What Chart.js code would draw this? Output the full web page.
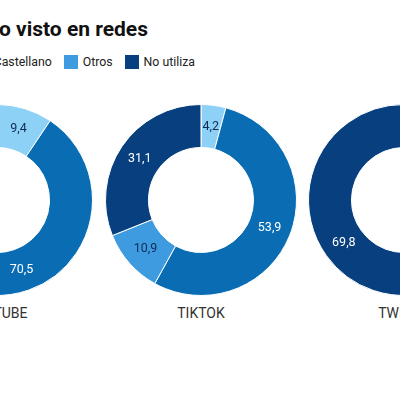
<!DOCTYPE html>
<html>
<head>
<meta charset="utf-8">
<script src="https://cdn.jsdelivr.net/npm/chart.js@4/dist/chart.umd.min.js"></script>
<style>
  html, body { margin: 0; padding: 0; background: #fff; }
  body { width: 400px; height: 400px; overflow: hidden; position: relative; font-family: Roboto, "Noto Sans", sans-serif; }
  #title { position: absolute; right: 252px; top: 17px; white-space: nowrap; font-size: 21px; font-weight: 700; color: #111; }
  #legend { position: absolute; right: 205px; top: 55px; display: flex; align-items: center; white-space: nowrap; font-size: 12.3px; color: #222; }
  #legend .item { display: flex; align-items: center; margin-left: 12px; }
  #legend .sw { width: 14px; height: 14px; margin-right: 5px; }
  .donut { position: absolute; top: 104px; }
  .name { position: absolute; top: 305px; width: 200px; text-align: center; font-size: 14px; color: #333; }
</style>
</head>
<body>
<div id="title">Idioma del contenido visto en redes</div>
<div id="legend"></div>
<div id="charts"></div>
<script>
// categories (legend order) and colours
const categories = ['Catalán', 'Castellano', 'Otros', 'No utiliza'];
const colors = ['#8dd1f7', '#0a6db3', '#3f9be0', '#083f7e'];
const labelColors = ['#0d2d57', '#ffffff', '#0d2d57', '#ffffff'];

// platforms and their values in %
const platforms = ['YOUTUBE', 'TIKTOK', 'TWITCH'];
const youtubeValues = [9.4, 70.5, 5.6, 14.5];
const tiktokValues = [4.2, 53.9, 10.9, 31.1];
const twitchValues = [3.9, 22.6, 3.7, 69.8];
const allValues = [youtubeValues, tiktokValues, twitchValues];

// centre x of every donut on the page
const centers = [-3, 201, 404];
const size = 192;

// legend
const legend = document.getElementById('legend');
categories.forEach((c, i) => {
    let item = document.createElement('div');
    item.className = 'item';
    item.innerHTML = '<span class="sw" style="background:' + colors[i] + '"></span>' + c;
    legend.appendChild(item);
});

// value labels inside the arcs
const arcLabels = {
    id: 'arcLabels',
    afterDatasetsDraw(chart) {
        const ctx = chart.ctx;
        const meta = chart.getDatasetMeta(0);
        ctx.save();
        ctx.font = '12.5px Roboto, sans-serif';
        ctx.textAlign = 'center';
        ctx.textBaseline = 'middle';
        meta.data.forEach((arc, i) => {
            let p = arc.tooltipPosition();
            ctx.fillStyle = labelColors[i];
            let v = chart.data.datasets[0].data[i];
            ctx.fillText(v.toFixed(1).replace('.', ','), p.x, p.y);
        });
        ctx.restore();
    }
};

const holder = document.getElementById('charts');
platforms.forEach((name, k) => {
    let canvas = document.createElement('canvas');
    canvas.className = 'donut';
    canvas.width = size;
    canvas.height = size;
    canvas.style.left = (centers[k] - size / 2) + 'px';
    canvas.style.width = size + 'px';
    canvas.style.height = size + 'px';
    holder.appendChild(canvas);

    let label = document.createElement('div');
    label.className = 'name';
    label.style.left = (centers[k] - 100) + 'px';
    label.textContent = name;
    holder.appendChild(label);

    new Chart(canvas, {
        type: 'doughnut',
        data: {
            labels: categories,
            datasets: [{
                data: allValues[k],
                backgroundColor: colors,
                borderColor: '#ffffff',
                borderWidth: 1
            }]
        },
        options: {
            responsive: false,
            animation: false,
            cutout: '55%',
            plugins: {
                legend: { display: false },
                tooltip: { enabled: false }
            }
        },
        plugins: [arcLabels]
    });
});
</script>
</body>
</html>
